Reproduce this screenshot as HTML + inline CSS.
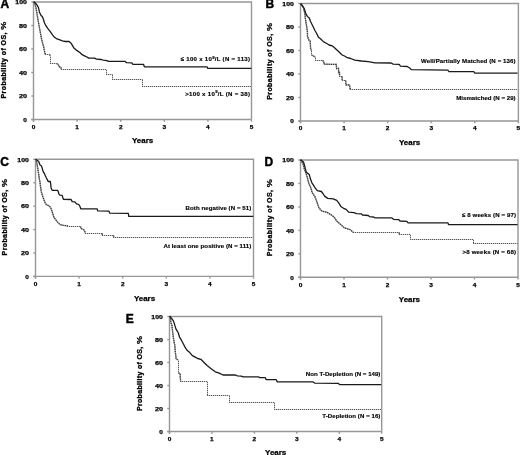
<!DOCTYPE html><html><head><meta charset="utf-8"><style>html,body{margin:0;padding:0;background:#fff;width:520px;height:455px;overflow:hidden}svg{display:block;will-change:transform}text{font-family:"Liberation Sans",sans-serif}</style></head><body>
<svg width="520" height="455" viewBox="0 0 520 455">
<rect width="520" height="455" fill="#fff"/>
<g fill="none" stroke-width="1.4" stroke="#979797">
<path d="M33.5,2H251.5V119.5M33.5,2V121.7M31.3,119.5H251.5"/>
<line x1="31.3" y1="119.5" x2="33.5" y2="119.5"/>
<line x1="33.5" y1="119.5" x2="33.5" y2="121.7"/>
<line x1="31.3" y1="96" x2="33.5" y2="96"/>
<line x1="77.1" y1="119.5" x2="77.1" y2="121.7"/>
<line x1="31.3" y1="72.5" x2="33.5" y2="72.5"/>
<line x1="120.7" y1="119.5" x2="120.7" y2="121.7"/>
<line x1="31.3" y1="49" x2="33.5" y2="49"/>
<line x1="164.3" y1="119.5" x2="164.3" y2="121.7"/>
<line x1="31.3" y1="25.5" x2="33.5" y2="25.5"/>
<line x1="207.9" y1="119.5" x2="207.9" y2="121.7"/>
<line x1="31.3" y1="2" x2="33.5" y2="2"/>
<line x1="251.5" y1="119.5" x2="251.5" y2="121.7"/>
</g>
<g font-size="6.1" font-weight="bold" fill="#000" stroke="#000" stroke-width="0.25">
<text x="23.3" y="121.7" textLength="3.6" lengthAdjust="spacingAndGlyphs">0</text>
<text x="31.7" y="128.9" textLength="3.6" lengthAdjust="spacingAndGlyphs">0</text>
<text x="18.9" y="98.2" textLength="8" lengthAdjust="spacingAndGlyphs">20</text>
<text x="75.3" y="128.9" textLength="3.6" lengthAdjust="spacingAndGlyphs">1</text>
<text x="18.9" y="74.7" textLength="8" lengthAdjust="spacingAndGlyphs">40</text>
<text x="118.9" y="128.9" textLength="3.6" lengthAdjust="spacingAndGlyphs">2</text>
<text x="18.9" y="51.2" textLength="8" lengthAdjust="spacingAndGlyphs">60</text>
<text x="162.5" y="128.9" textLength="3.6" lengthAdjust="spacingAndGlyphs">3</text>
<text x="18.9" y="27.7" textLength="8" lengthAdjust="spacingAndGlyphs">80</text>
<text x="206.1" y="128.9" textLength="3.6" lengthAdjust="spacingAndGlyphs">4</text>
<text x="15.3" y="4.2" textLength="11.6" lengthAdjust="spacingAndGlyphs">100</text>
<text x="249.7" y="128.9" textLength="3.6" lengthAdjust="spacingAndGlyphs">5</text>
</g>
<text x="132" y="143.4" font-size="8" font-weight="bold" fill="#000" stroke="#000" stroke-width="0.25" textLength="21.2" lengthAdjust="spacingAndGlyphs">Years</text>
<text transform="translate(5.7,98.5) rotate(-90)" font-size="7.0" font-weight="bold" fill="#000" stroke="#000" stroke-width="0.3" textLength="66" lengthAdjust="spacing">Probability of OS,</text>
<text transform="translate(5.7,29.7) rotate(-90)" font-size="7.0" font-weight="bold" fill="#000" stroke="#000" stroke-width="0.25" textLength="8" lengthAdjust="spacingAndGlyphs">%</text>
<text x="0.5" y="8.1" font-size="12" font-weight="bold" fill="#000" stroke="#000" stroke-width="0.45">A</text>
<text x="180.7" y="61.2" font-size="6.1" font-weight="bold" fill="#000" stroke="#000" stroke-width="0.15" textLength="69.3" lengthAdjust="spacing">≤ 100 x 10<tspan font-size="4.2" dy="-2.2">9</tspan><tspan dy="2.2">/L (N = 113)</tspan></text>
<text x="185.2" y="95.5" font-size="6.1" font-weight="bold" fill="#000" stroke="#000" stroke-width="0.15" textLength="64.8" lengthAdjust="spacing">&gt;100 x 10<tspan font-size="4.2" dy="-2.2">9</tspan><tspan dy="2.2">/L (N = 38)</tspan></text>
<polyline points="33.5,2 34.5,2.5 36,7.9 37,13.9 38,19.8 39,25.7 40.4,32.7 41.5,38.8 42.2,41.8 43.4,45.7 44.2,49.5 44.9,53.4 45.7,54.5 49.5,54.5 50.5,56.1 50.5,63.5 56.5,63.5 58.4,64.5 58.8,66.5 60.7,67.1 61.5,69.5 106.5,69.5 106.5,74.5 112.5,74.5 112.5,79.5 142.5,79.5 142.5,86.5 251.4,86.5" fill="none" stroke="#c8c8c8" stroke-width="1"/>
<polyline points="33.5,2 34.5,2.5 36,7.9 37,13.9 38,19.8 39,25.7 40.4,32.7 41.5,38.8 42.2,41.8 43.4,45.7 44.2,49.5 44.9,53.4 45.7,54.5" fill="none" stroke="#aaa" stroke-width="1.3"/>
<polyline points="33.5,2 34.5,2.5 36,7.9 37,13.9 38,19.8 39,25.7 40.4,32.7 41.5,38.8 42.2,41.8 43.4,45.7 44.2,49.5 44.9,53.4 45.7,54.5" fill="none" stroke="#383838" stroke-width="1.3" stroke-dasharray="1.2 1"/>
<line x1="45" y1="54.5" x2="49.5" y2="54.5" stroke="#585858" stroke-width="1" stroke-dasharray="1 1"/>
<polyline points="49.5,54.5 50.5,56.1" fill="none" stroke="#aaa" stroke-width="1.3"/>
<polyline points="49.5,54.5 50.5,56.1" fill="none" stroke="#383838" stroke-width="1.3" stroke-dasharray="1.2 1"/>
<line x1="50.5" y1="57" x2="50.5" y2="63.5" stroke="#585858" stroke-width="1" stroke-dasharray="1 1"/>
<line x1="50" y1="63.5" x2="56.5" y2="63.5" stroke="#585858" stroke-width="1" stroke-dasharray="1 1"/>
<polyline points="56.5,63.5 58.4,64.5 58.8,66.5 60.7,67.1 61.5,69.5" fill="none" stroke="#aaa" stroke-width="1.3"/>
<polyline points="56.5,63.5 58.4,64.5 58.8,66.5 60.7,67.1 61.5,69.5" fill="none" stroke="#383838" stroke-width="1.3" stroke-dasharray="1.2 1"/>
<line x1="61" y1="69.5" x2="106.5" y2="69.5" stroke="#585858" stroke-width="1" stroke-dasharray="1 1"/>
<line x1="106.5" y1="70" x2="106.5" y2="74.5" stroke="#585858" stroke-width="1" stroke-dasharray="1 1"/>
<line x1="106" y1="74.5" x2="112.5" y2="74.5" stroke="#585858" stroke-width="1" stroke-dasharray="1 1"/>
<line x1="112.5" y1="75" x2="112.5" y2="79.5" stroke="#585858" stroke-width="1" stroke-dasharray="1 1"/>
<line x1="112" y1="79.5" x2="142.5" y2="79.5" stroke="#585858" stroke-width="1" stroke-dasharray="1 1"/>
<line x1="142.5" y1="80" x2="142.5" y2="86.5" stroke="#585858" stroke-width="1" stroke-dasharray="1 1"/>
<line x1="142" y1="86.5" x2="251.4" y2="86.5" stroke="#585858" stroke-width="1" stroke-dasharray="1 1"/>
<polyline points="33.5,2 34.5,2.2 37,5 38.4,7.4 39.4,11.9 40.9,15.3 42.4,16.8 43.4,19.3 44.4,22.8 45.9,25.7 47.9,28.7 50.3,31.7 52.3,34.7 54.3,37.1 56.3,38.6 59.2,39.6 62.4,40.8 65.3,41.5 69.1,41.5 71.1,43.2 72.5,45.6 73.9,48 76.8,50.4 80.2,52.8 82.1,54.7 85.5,56.3 88.8,58.1 94.6,58.1 96.5,59.2 101.3,59.5 103.3,60.2 106.9,60.6 108.4,61.4 125.2,61.4 126.6,62.7 131.9,62.9 132.9,64.3 143.5,64.3 144.4,66.8 207.2,66.8 207.6,68.4 251.4,68.4" fill="none" stroke="#1a1a1a" stroke-width="1.3" stroke-linejoin="round"/>
<g fill="none" stroke-width="1.4" stroke="#979797">
<path d="M300.5,3.5H518.4V121M300.5,3.5V123.2M298.3,121H518.4"/>
<line x1="298.3" y1="121" x2="300.5" y2="121"/>
<line x1="300.5" y1="121" x2="300.5" y2="123.2"/>
<line x1="298.3" y1="97.5" x2="300.5" y2="97.5"/>
<line x1="344.08" y1="121" x2="344.08" y2="123.2"/>
<line x1="298.3" y1="74" x2="300.5" y2="74"/>
<line x1="387.66" y1="121" x2="387.66" y2="123.2"/>
<line x1="298.3" y1="50.5" x2="300.5" y2="50.5"/>
<line x1="431.24" y1="121" x2="431.24" y2="123.2"/>
<line x1="298.3" y1="27" x2="300.5" y2="27"/>
<line x1="474.82" y1="121" x2="474.82" y2="123.2"/>
<line x1="298.3" y1="3.5" x2="300.5" y2="3.5"/>
<line x1="518.4" y1="121" x2="518.4" y2="123.2"/>
</g>
<g font-size="6.1" font-weight="bold" fill="#000" stroke="#000" stroke-width="0.25">
<text x="290.3" y="123.2" textLength="3.6" lengthAdjust="spacingAndGlyphs">0</text>
<text x="298.7" y="130.4" textLength="3.6" lengthAdjust="spacingAndGlyphs">0</text>
<text x="285.9" y="99.7" textLength="8" lengthAdjust="spacingAndGlyphs">20</text>
<text x="342.28" y="130.4" textLength="3.6" lengthAdjust="spacingAndGlyphs">1</text>
<text x="285.9" y="76.2" textLength="8" lengthAdjust="spacingAndGlyphs">40</text>
<text x="385.86" y="130.4" textLength="3.6" lengthAdjust="spacingAndGlyphs">2</text>
<text x="285.9" y="52.7" textLength="8" lengthAdjust="spacingAndGlyphs">60</text>
<text x="429.44" y="130.4" textLength="3.6" lengthAdjust="spacingAndGlyphs">3</text>
<text x="285.9" y="29.2" textLength="8" lengthAdjust="spacingAndGlyphs">80</text>
<text x="473.02" y="130.4" textLength="3.6" lengthAdjust="spacingAndGlyphs">4</text>
<text x="282.3" y="5.7" textLength="11.6" lengthAdjust="spacingAndGlyphs">100</text>
<text x="516.6" y="130.4" textLength="3.6" lengthAdjust="spacingAndGlyphs">5</text>
</g>
<text x="399" y="144.8" font-size="8" font-weight="bold" fill="#000" stroke="#000" stroke-width="0.25" textLength="21.2" lengthAdjust="spacingAndGlyphs">Years</text>
<text transform="translate(272.1,99.8) rotate(-90)" font-size="7.0" font-weight="bold" fill="#000" stroke="#000" stroke-width="0.3" textLength="65.9" lengthAdjust="spacing">Probability of OS,</text>
<text transform="translate(272.1,31.1) rotate(-90)" font-size="7.0" font-weight="bold" fill="#000" stroke="#000" stroke-width="0.25" textLength="8" lengthAdjust="spacingAndGlyphs">%</text>
<text x="265.6" y="8.4" font-size="12" font-weight="bold" fill="#000" stroke="#000" stroke-width="0.45">B</text>
<text x="421" y="62.9" font-size="6.1" font-weight="bold" fill="#000" stroke="#000" stroke-width="0.15" textLength="94.6" lengthAdjust="spacing">Well/Partially Matched (N = 136)</text>
<text x="456.2" y="99.8" font-size="6.1" font-weight="bold" fill="#000" stroke="#000" stroke-width="0.15" textLength="59.4" lengthAdjust="spacing">Mismatched (N = 29)</text>
<polyline points="300.4,3.6 301,4 303.5,7.9 304.9,13.9 305.4,18.8 306.4,24.8 307.4,31.7 307.5,36.5 309.1,40.4 310.2,41.2 310.6,48.8 311.5,50.4 311.5,55 313.3,55.8 315.5,57.3 315.5,60.5 322.5,60.5 323.7,61.5 324.1,64.2 336.3,64.4 336.6,68.5 338.5,68.5 338.6,72.5 339.5,72.5 339.6,76.5 342,76.5 342.2,80.5 345.7,80.5 345.9,84.9 349.5,85 350.2,89.5 517.6,89.5" fill="none" stroke="#c8c8c8" stroke-width="1"/>
<polyline points="300.4,3.6 301,4 303.5,7.9 304.9,13.9 305.4,18.8 306.4,24.8 307.4,31.7 307.5,36.5 309.1,40.4 310.2,41.2 310.6,48.8 311.5,50.4" fill="none" stroke="#aaa" stroke-width="1.3"/>
<polyline points="300.4,3.6 301,4 303.5,7.9 304.9,13.9 305.4,18.8 306.4,24.8 307.4,31.7 307.5,36.5 309.1,40.4 310.2,41.2 310.6,48.8 311.5,50.4" fill="none" stroke="#383838" stroke-width="1.3" stroke-dasharray="1.2 1"/>
<line x1="311.5" y1="51" x2="311.5" y2="55" stroke="#585858" stroke-width="1" stroke-dasharray="1 1"/>
<polyline points="311.5,55 313.3,55.8 315.5,57.3" fill="none" stroke="#aaa" stroke-width="1.3"/>
<polyline points="311.5,55 313.3,55.8 315.5,57.3" fill="none" stroke="#383838" stroke-width="1.3" stroke-dasharray="1.2 1"/>
<line x1="315.5" y1="58" x2="315.5" y2="60.5" stroke="#585858" stroke-width="1" stroke-dasharray="1 1"/>
<line x1="315" y1="60.5" x2="322.5" y2="60.5" stroke="#585858" stroke-width="1" stroke-dasharray="1 1"/>
<polyline points="322.5,60.5 323.7,61.5 324.1,64.2 336.3,64.4 336.6,68.5 338.5,68.5 338.6,72.5 339.5,72.5 339.6,76.5" fill="none" stroke="#aaa" stroke-width="1.3"/>
<polyline points="322.5,60.5 323.7,61.5 324.1,64.2 336.3,64.4 336.6,68.5 338.5,68.5 338.6,72.5 339.5,72.5 339.6,76.5" fill="none" stroke="#383838" stroke-width="1.3" stroke-dasharray="1.2 1"/>
<line x1="339" y1="76.5" x2="342" y2="76.5" stroke="#585858" stroke-width="1" stroke-dasharray="1 1"/>
<polyline points="342,76.5 342.2,80.5" fill="none" stroke="#aaa" stroke-width="1.3"/>
<polyline points="342,76.5 342.2,80.5" fill="none" stroke="#383838" stroke-width="1.3" stroke-dasharray="1.2 1"/>
<line x1="342" y1="80.5" x2="345.7" y2="80.5" stroke="#585858" stroke-width="1" stroke-dasharray="1 1"/>
<polyline points="345.7,80.5 345.9,84.9 349.5,85 350.2,89.5" fill="none" stroke="#aaa" stroke-width="1.3"/>
<polyline points="345.7,80.5 345.9,84.9 349.5,85 350.2,89.5" fill="none" stroke="#383838" stroke-width="1.3" stroke-dasharray="1.2 1"/>
<line x1="350" y1="89.5" x2="517.6" y2="89.5" stroke="#585858" stroke-width="1" stroke-dasharray="1 1"/>
<polyline points="300.4,3.6 301,4 303,6.5 304.4,8.9 305.9,13.9 307.4,16.4 309.4,18.3 310.4,21.3 311.9,24.3 313.4,27.2 314.8,30.2 316.8,33.7 318.3,36.9 321,39.2 323.7,41.9 326.8,43.5 329.1,45 332.2,45.8 334.5,47.7 338.3,51.2 340.6,53.5 342.2,55 344.5,56 347.4,57.7 350.7,58.5 354.8,60.1 361.5,61 368.2,61.7 375,62.8 391.1,63 393.1,64.1 399.2,64.4 400.5,66.1 407.3,66.5 410,68.2 411.3,69.6 447.9,70.1 448.8,71.5 473.8,71.7 474.8,73.1 517.6,73.1" fill="none" stroke="#1a1a1a" stroke-width="1.3" stroke-linejoin="round"/>
<g fill="none" stroke-width="1.4" stroke="#979797">
<path d="M35.5,159.3H253.5V276.4M35.5,159.3V278.6M33.3,276.4H253.5"/>
<line x1="33.3" y1="276.4" x2="35.5" y2="276.4"/>
<line x1="35.5" y1="276.4" x2="35.5" y2="278.6"/>
<line x1="33.3" y1="252.98" x2="35.5" y2="252.98"/>
<line x1="79.1" y1="276.4" x2="79.1" y2="278.6"/>
<line x1="33.3" y1="229.56" x2="35.5" y2="229.56"/>
<line x1="122.7" y1="276.4" x2="122.7" y2="278.6"/>
<line x1="33.3" y1="206.14" x2="35.5" y2="206.14"/>
<line x1="166.3" y1="276.4" x2="166.3" y2="278.6"/>
<line x1="33.3" y1="182.72" x2="35.5" y2="182.72"/>
<line x1="209.9" y1="276.4" x2="209.9" y2="278.6"/>
<line x1="33.3" y1="159.3" x2="35.5" y2="159.3"/>
<line x1="253.5" y1="276.4" x2="253.5" y2="278.6"/>
</g>
<g font-size="6.1" font-weight="bold" fill="#000" stroke="#000" stroke-width="0.25">
<text x="25.3" y="278.6" textLength="3.6" lengthAdjust="spacingAndGlyphs">0</text>
<text x="33.7" y="285.8" textLength="3.6" lengthAdjust="spacingAndGlyphs">0</text>
<text x="20.9" y="255.18" textLength="8" lengthAdjust="spacingAndGlyphs">20</text>
<text x="77.3" y="285.8" textLength="3.6" lengthAdjust="spacingAndGlyphs">1</text>
<text x="20.9" y="231.76" textLength="8" lengthAdjust="spacingAndGlyphs">40</text>
<text x="120.9" y="285.8" textLength="3.6" lengthAdjust="spacingAndGlyphs">2</text>
<text x="20.9" y="208.34" textLength="8" lengthAdjust="spacingAndGlyphs">60</text>
<text x="164.5" y="285.8" textLength="3.6" lengthAdjust="spacingAndGlyphs">3</text>
<text x="20.9" y="184.92" textLength="8" lengthAdjust="spacingAndGlyphs">80</text>
<text x="208.1" y="285.8" textLength="3.6" lengthAdjust="spacingAndGlyphs">4</text>
<text x="17.3" y="161.5" textLength="11.6" lengthAdjust="spacingAndGlyphs">100</text>
<text x="251.7" y="285.8" textLength="3.6" lengthAdjust="spacingAndGlyphs">5</text>
</g>
<text x="133.9" y="300.9" font-size="8" font-weight="bold" fill="#000" stroke="#000" stroke-width="0.25" textLength="21.2" lengthAdjust="spacingAndGlyphs">Years</text>
<text transform="translate(7.1,255.4) rotate(-90)" font-size="7.0" font-weight="bold" fill="#000" stroke="#000" stroke-width="0.3" textLength="65.5" lengthAdjust="spacing">Probability of OS,</text>
<text transform="translate(7.1,187.1) rotate(-90)" font-size="7.0" font-weight="bold" fill="#000" stroke="#000" stroke-width="0.25" textLength="8" lengthAdjust="spacingAndGlyphs">%</text>
<text x="0.3" y="165.9" font-size="12" font-weight="bold" fill="#000" stroke="#000" stroke-width="0.45">C</text>
<text x="185.6" y="210" font-size="6.1" font-weight="bold" fill="#000" stroke="#000" stroke-width="0.15" textLength="65.7" lengthAdjust="spacing">Both negative (N = 51)</text>
<text x="163.5" y="248" font-size="6.1" font-weight="bold" fill="#000" stroke="#000" stroke-width="0.15" textLength="87.8" lengthAdjust="spacing">At least one positive (N = 111)</text>
<polyline points="35.5,159.3 36.3,160.1 37.1,164.7 37.8,168.5 38.6,173.9 39.4,179.3 40,182 40.4,186 41.3,191.6 42.9,197.1 45.1,202.6 46.2,204.6 49,205.9 50.6,207.5 51.7,210.3 52.8,213.6 53.9,217.4 55.6,219.6 57.8,222.4 60,224.6 63.3,225.4 67.1,225.7 67.7,226.5 80.5,226.5 80.9,228.4 84.2,230 85.5,233.5 102.3,233.5 102.3,235.5 113.6,235.5 113.6,237.5 253.3,237.5" fill="none" stroke="#c8c8c8" stroke-width="1"/>
<polyline points="35.5,159.3 36.3,160.1 37.1,164.7 37.8,168.5 38.6,173.9 39.4,179.3 40,182 40.4,186 41.3,191.6 42.9,197.1 45.1,202.6 46.2,204.6 49,205.9 50.6,207.5 51.7,210.3 52.8,213.6 53.9,217.4 55.6,219.6 57.8,222.4 60,224.6 63.3,225.4 67.1,225.7 67.7,226.5" fill="none" stroke="#aaa" stroke-width="1.3"/>
<polyline points="35.5,159.3 36.3,160.1 37.1,164.7 37.8,168.5 38.6,173.9 39.4,179.3 40,182 40.4,186 41.3,191.6 42.9,197.1 45.1,202.6 46.2,204.6 49,205.9 50.6,207.5 51.7,210.3 52.8,213.6 53.9,217.4 55.6,219.6 57.8,222.4 60,224.6 63.3,225.4 67.1,225.7 67.7,226.5" fill="none" stroke="#383838" stroke-width="1.3" stroke-dasharray="1.2 1"/>
<line x1="67" y1="226.5" x2="80.5" y2="226.5" stroke="#585858" stroke-width="1" stroke-dasharray="1 1"/>
<polyline points="80.5,226.5 80.9,228.4 84.2,230 85.5,233.5" fill="none" stroke="#aaa" stroke-width="1.3"/>
<polyline points="80.5,226.5 80.9,228.4 84.2,230 85.5,233.5" fill="none" stroke="#383838" stroke-width="1.3" stroke-dasharray="1.2 1"/>
<line x1="85" y1="233.5" x2="102.3" y2="233.5" stroke="#585858" stroke-width="1" stroke-dasharray="1 1"/>
<polyline points="102.3,233.5 102.3,235.5" fill="none" stroke="#aaa" stroke-width="1.3"/>
<polyline points="102.3,233.5 102.3,235.5" fill="none" stroke="#383838" stroke-width="1.3" stroke-dasharray="1.2 1"/>
<line x1="102" y1="235.5" x2="113.6" y2="235.5" stroke="#585858" stroke-width="1" stroke-dasharray="1 1"/>
<polyline points="113.6,235.5 113.6,237.5" fill="none" stroke="#aaa" stroke-width="1.3"/>
<polyline points="113.6,235.5 113.6,237.5" fill="none" stroke="#383838" stroke-width="1.3" stroke-dasharray="1.2 1"/>
<line x1="113" y1="237.5" x2="253.3" y2="237.5" stroke="#585858" stroke-width="1" stroke-dasharray="1 1"/>
<polyline points="35.5,159.3 36.3,159.7 38.6,161.2 39.4,163.2 39.8,164.7 41.3,165.8 42.1,167.8 42.8,170.5 43.6,172.4 44.4,173.5 45.2,175.5 46.3,177.8 47.5,180.1 48.2,181.5 50.3,181.5 50.7,184 51.1,188 52.2,190.3 57.6,190.3 58.4,192 58.8,193.8 59.9,195.2 62.2,195.3 62.8,197.5 63.4,199.3 71.1,199.5 72.2,201.6 74.9,201.8 76.5,203.8 78.8,204.5 80,206.5 80.7,208.8 97.2,208.8 97.7,210.9 109,211.1 109.7,213.2 128.3,213.4 128.8,216.3 253.3,216.3" fill="none" stroke="#1a1a1a" stroke-width="1.3" stroke-linejoin="round"/>
<g fill="none" stroke-width="1.4" stroke="#979797">
<path d="M300.5,160H518V277.3M300.5,160V279.5M298.3,277.3H518"/>
<line x1="298.3" y1="277.3" x2="300.5" y2="277.3"/>
<line x1="300.5" y1="277.3" x2="300.5" y2="279.5"/>
<line x1="298.3" y1="253.84" x2="300.5" y2="253.84"/>
<line x1="344" y1="277.3" x2="344" y2="279.5"/>
<line x1="298.3" y1="230.38" x2="300.5" y2="230.38"/>
<line x1="387.5" y1="277.3" x2="387.5" y2="279.5"/>
<line x1="298.3" y1="206.92" x2="300.5" y2="206.92"/>
<line x1="431" y1="277.3" x2="431" y2="279.5"/>
<line x1="298.3" y1="183.46" x2="300.5" y2="183.46"/>
<line x1="474.5" y1="277.3" x2="474.5" y2="279.5"/>
<line x1="298.3" y1="160" x2="300.5" y2="160"/>
<line x1="518" y1="277.3" x2="518" y2="279.5"/>
</g>
<g font-size="6.1" font-weight="bold" fill="#000" stroke="#000" stroke-width="0.25">
<text x="290.3" y="279.5" textLength="3.6" lengthAdjust="spacingAndGlyphs">0</text>
<text x="298.7" y="286.7" textLength="3.6" lengthAdjust="spacingAndGlyphs">0</text>
<text x="285.9" y="256.04" textLength="8" lengthAdjust="spacingAndGlyphs">20</text>
<text x="342.2" y="286.7" textLength="3.6" lengthAdjust="spacingAndGlyphs">1</text>
<text x="285.9" y="232.58" textLength="8" lengthAdjust="spacingAndGlyphs">40</text>
<text x="385.7" y="286.7" textLength="3.6" lengthAdjust="spacingAndGlyphs">2</text>
<text x="285.9" y="209.12" textLength="8" lengthAdjust="spacingAndGlyphs">60</text>
<text x="429.2" y="286.7" textLength="3.6" lengthAdjust="spacingAndGlyphs">3</text>
<text x="285.9" y="185.66" textLength="8" lengthAdjust="spacingAndGlyphs">80</text>
<text x="472.7" y="286.7" textLength="3.6" lengthAdjust="spacingAndGlyphs">4</text>
<text x="282.3" y="162.2" textLength="11.6" lengthAdjust="spacingAndGlyphs">100</text>
<text x="516.2" y="286.7" textLength="3.6" lengthAdjust="spacingAndGlyphs">5</text>
</g>
<text x="398.8" y="302.2" font-size="8" font-weight="bold" fill="#000" stroke="#000" stroke-width="0.25" textLength="21.2" lengthAdjust="spacingAndGlyphs">Years</text>
<text transform="translate(272.1,256.2) rotate(-90)" font-size="7.0" font-weight="bold" fill="#000" stroke="#000" stroke-width="0.3" textLength="66.2" lengthAdjust="spacing">Probability of OS,</text>
<text transform="translate(272.1,187.2) rotate(-90)" font-size="7.0" font-weight="bold" fill="#000" stroke="#000" stroke-width="0.25" textLength="8" lengthAdjust="spacingAndGlyphs">%</text>
<text x="264.6" y="166" font-size="12" font-weight="bold" fill="#000" stroke="#000" stroke-width="0.45">D</text>
<text x="462" y="216.8" font-size="6.1" font-weight="bold" fill="#000" stroke="#000" stroke-width="0.15" textLength="54" lengthAdjust="spacing">≤ 8 weeks (N = 97)</text>
<text x="462.5" y="254.4" font-size="6.1" font-weight="bold" fill="#000" stroke="#000" stroke-width="0.15" textLength="53.5" lengthAdjust="spacing">&gt;8 weeks (N = 68)</text>
<polyline points="300.4,160 301,160.5 303,163.9 304,167.9 305.4,171.9 306.9,175.8 307.9,179.8 308.9,183.7 310.4,186.7 311.4,189.7 312,192.5 312.9,193.5 315,196.9 316.9,201.9 318.9,207.8 321.9,211.2 326.8,212.2 331.8,215.2 334.2,217.2 336.7,221.1 340.7,224.6 344.6,228 350,229.5 353.5,232.5 399.2,232.5 399.2,234.5 410.5,234.5 410.5,239.5 473.5,239.5 473.5,243.5 517.6,243.5" fill="none" stroke="#c8c8c8" stroke-width="1"/>
<polyline points="300.4,160 301,160.5 303,163.9 304,167.9 305.4,171.9 306.9,175.8 307.9,179.8 308.9,183.7 310.4,186.7 311.4,189.7 312,192.5 312.9,193.5 315,196.9 316.9,201.9 318.9,207.8 321.9,211.2 326.8,212.2 331.8,215.2 334.2,217.2 336.7,221.1 340.7,224.6 344.6,228 350,229.5 353.5,232.5" fill="none" stroke="#aaa" stroke-width="1.3"/>
<polyline points="300.4,160 301,160.5 303,163.9 304,167.9 305.4,171.9 306.9,175.8 307.9,179.8 308.9,183.7 310.4,186.7 311.4,189.7 312,192.5 312.9,193.5 315,196.9 316.9,201.9 318.9,207.8 321.9,211.2 326.8,212.2 331.8,215.2 334.2,217.2 336.7,221.1 340.7,224.6 344.6,228 350,229.5 353.5,232.5" fill="none" stroke="#383838" stroke-width="1.3" stroke-dasharray="1.2 1"/>
<line x1="353" y1="232.5" x2="399.2" y2="232.5" stroke="#585858" stroke-width="1" stroke-dasharray="1 1"/>
<polyline points="399.2,232.5 399.2,234.5" fill="none" stroke="#aaa" stroke-width="1.3"/>
<polyline points="399.2,232.5 399.2,234.5" fill="none" stroke="#383838" stroke-width="1.3" stroke-dasharray="1.2 1"/>
<line x1="399" y1="234.5" x2="410.5" y2="234.5" stroke="#585858" stroke-width="1" stroke-dasharray="1 1"/>
<line x1="410.5" y1="235" x2="410.5" y2="239.5" stroke="#585858" stroke-width="1" stroke-dasharray="1 1"/>
<line x1="410" y1="239.5" x2="473.5" y2="239.5" stroke="#585858" stroke-width="1" stroke-dasharray="1 1"/>
<line x1="473.5" y1="240" x2="473.5" y2="243.5" stroke="#585858" stroke-width="1" stroke-dasharray="1 1"/>
<line x1="473" y1="243.5" x2="517.6" y2="243.5" stroke="#585858" stroke-width="1" stroke-dasharray="1 1"/>
<polyline points="300.4,160 301,160 303.5,162 304.4,164.9 305.4,168.9 306.4,172.4 308.4,173.8 309.4,174.8 310.4,178.8 311.9,182.8 313.4,185.2 315.3,188.2 317.3,190.7 321.4,191.5 322.9,193.5 324.8,196.4 327.8,198.4 333.2,198.9 336.7,200.4 338.7,202.8 341.2,206.8 343.6,208.3 346.1,209.3 348.6,212.2 354,212.7 356.5,213.6 361.3,213.8 362.5,215 368.3,215.5 369.4,216.6 373.5,217 375.2,217.9 391.9,217.9 393.6,219.3 398.8,219.6 400,221 406.9,221.3 408.1,222.8 448,222.8 448.5,224.7 517.6,224.7" fill="none" stroke="#1a1a1a" stroke-width="1.3" stroke-linejoin="round"/>
<g fill="none" stroke-width="1.4" stroke="#979797">
<path d="M169.5,316.5H381.7V431.5M169.5,316.5V433.7M167.3,431.5H381.7"/>
<line x1="167.3" y1="431.5" x2="169.5" y2="431.5"/>
<line x1="169.5" y1="431.5" x2="169.5" y2="433.7"/>
<line x1="167.3" y1="408.5" x2="169.5" y2="408.5"/>
<line x1="211.94" y1="431.5" x2="211.94" y2="433.7"/>
<line x1="167.3" y1="385.5" x2="169.5" y2="385.5"/>
<line x1="254.38" y1="431.5" x2="254.38" y2="433.7"/>
<line x1="167.3" y1="362.5" x2="169.5" y2="362.5"/>
<line x1="296.82" y1="431.5" x2="296.82" y2="433.7"/>
<line x1="167.3" y1="339.5" x2="169.5" y2="339.5"/>
<line x1="339.26" y1="431.5" x2="339.26" y2="433.7"/>
<line x1="167.3" y1="316.5" x2="169.5" y2="316.5"/>
<line x1="381.7" y1="431.5" x2="381.7" y2="433.7"/>
</g>
<g font-size="6.1" font-weight="bold" fill="#000" stroke="#000" stroke-width="0.25">
<text x="159.3" y="433.7" textLength="3.6" lengthAdjust="spacingAndGlyphs">0</text>
<text x="167.7" y="440.9" textLength="3.6" lengthAdjust="spacingAndGlyphs">0</text>
<text x="154.9" y="410.7" textLength="8" lengthAdjust="spacingAndGlyphs">20</text>
<text x="210.14" y="440.9" textLength="3.6" lengthAdjust="spacingAndGlyphs">1</text>
<text x="154.9" y="387.7" textLength="8" lengthAdjust="spacingAndGlyphs">40</text>
<text x="252.58" y="440.9" textLength="3.6" lengthAdjust="spacingAndGlyphs">2</text>
<text x="154.9" y="364.7" textLength="8" lengthAdjust="spacingAndGlyphs">60</text>
<text x="295.02" y="440.9" textLength="3.6" lengthAdjust="spacingAndGlyphs">3</text>
<text x="154.9" y="341.7" textLength="8" lengthAdjust="spacingAndGlyphs">80</text>
<text x="337.46" y="440.9" textLength="3.6" lengthAdjust="spacingAndGlyphs">4</text>
<text x="151.3" y="318.7" textLength="11.6" lengthAdjust="spacingAndGlyphs">100</text>
<text x="379.9" y="440.9" textLength="3.6" lengthAdjust="spacingAndGlyphs">5</text>
</g>
<text x="265.1" y="455.1" font-size="8" font-weight="bold" fill="#000" stroke="#000" stroke-width="0.25" textLength="21.2" lengthAdjust="spacingAndGlyphs">Years</text>
<text transform="translate(141.9,411) rotate(-90)" font-size="7.0" font-weight="bold" fill="#000" stroke="#000" stroke-width="0.3" textLength="64.1" lengthAdjust="spacing">Probability of OS,</text>
<text transform="translate(141.9,344.1) rotate(-90)" font-size="7.0" font-weight="bold" fill="#000" stroke="#000" stroke-width="0.25" textLength="8" lengthAdjust="spacingAndGlyphs">%</text>
<text x="125.8" y="323" font-size="12" font-weight="bold" fill="#000" stroke="#000" stroke-width="0.45">E</text>
<text x="305.8" y="376.3" font-size="6.1" font-weight="bold" fill="#000" stroke="#000" stroke-width="0.15" textLength="74.6" lengthAdjust="spacing">Non T-Depletion (N = 149)</text>
<text x="322.3" y="418" font-size="6.1" font-weight="bold" fill="#000" stroke="#000" stroke-width="0.15" textLength="58.1" lengthAdjust="spacing">T-Depletion (N = 16)</text>
<polyline points="169.4,316.5 170,317 171,322.9 172,325.9 172.5,330.8 173.4,337.8 174.4,343.7 174.8,345 175.3,352 176.2,359.1 178.5,360 178.5,373.1 180.1,373.6 180.6,381.5 207.5,381.5 207.5,395.5 229.5,395.5 229.5,402.5 274.5,402.5 274.5,409.5 381.3,409.5" fill="none" stroke="#c8c8c8" stroke-width="1"/>
<polyline points="169.4,316.5 170,317 171,322.9 172,325.9 172.5,330.8 173.4,337.8 174.4,343.7 174.8,345 175.3,352 176.2,359.1 178.5,360" fill="none" stroke="#aaa" stroke-width="1.3"/>
<polyline points="169.4,316.5 170,317 171,322.9 172,325.9 172.5,330.8 173.4,337.8 174.4,343.7 174.8,345 175.3,352 176.2,359.1 178.5,360" fill="none" stroke="#383838" stroke-width="1.3" stroke-dasharray="1.2 1"/>
<line x1="178.5" y1="361" x2="178.5" y2="373.1" stroke="#585858" stroke-width="1" stroke-dasharray="1 1"/>
<polyline points="178.5,373.1 180.1,373.6 180.6,381.5" fill="none" stroke="#aaa" stroke-width="1.3"/>
<polyline points="178.5,373.1 180.1,373.6 180.6,381.5" fill="none" stroke="#383838" stroke-width="1.3" stroke-dasharray="1.2 1"/>
<line x1="180" y1="381.5" x2="207.5" y2="381.5" stroke="#585858" stroke-width="1" stroke-dasharray="1 1"/>
<line x1="207.5" y1="382" x2="207.5" y2="395.5" stroke="#585858" stroke-width="1" stroke-dasharray="1 1"/>
<line x1="207" y1="395.5" x2="229.5" y2="395.5" stroke="#585858" stroke-width="1" stroke-dasharray="1 1"/>
<line x1="229.5" y1="396" x2="229.5" y2="402.5" stroke="#585858" stroke-width="1" stroke-dasharray="1 1"/>
<line x1="229" y1="402.5" x2="274.5" y2="402.5" stroke="#585858" stroke-width="1" stroke-dasharray="1 1"/>
<line x1="274.5" y1="403" x2="274.5" y2="409.5" stroke="#585858" stroke-width="1" stroke-dasharray="1 1"/>
<line x1="274" y1="409.5" x2="381.3" y2="409.5" stroke="#585858" stroke-width="1" stroke-dasharray="1 1"/>
<polyline points="169.4,316.5 170,316.5 172,319 173.4,320.9 174.4,323.9 175.9,328.9 177.4,331.3 178.4,333.3 179.4,336.8 181.4,340.2 183.3,343.7 185.3,347.7 187.3,350.6 189.8,352.6 192.3,355.6 195.2,357.1 197.7,358.5 200.9,359.3 203.8,362.2 207.1,365.5 211.5,368.9 215.3,371.8 219.2,373.2 223,375 235.5,375 237.4,375.9 241.3,376.1 243.2,376.9 258.8,376.9 259.6,377.7 265.4,377.7 266.2,379.7 276.2,379.7 277.3,381.9 313.1,381.9 314.6,383.1 338.1,383.3 339.6,384.6 381.3,384.6" fill="none" stroke="#1a1a1a" stroke-width="1.3" stroke-linejoin="round"/>
</svg></body></html>
